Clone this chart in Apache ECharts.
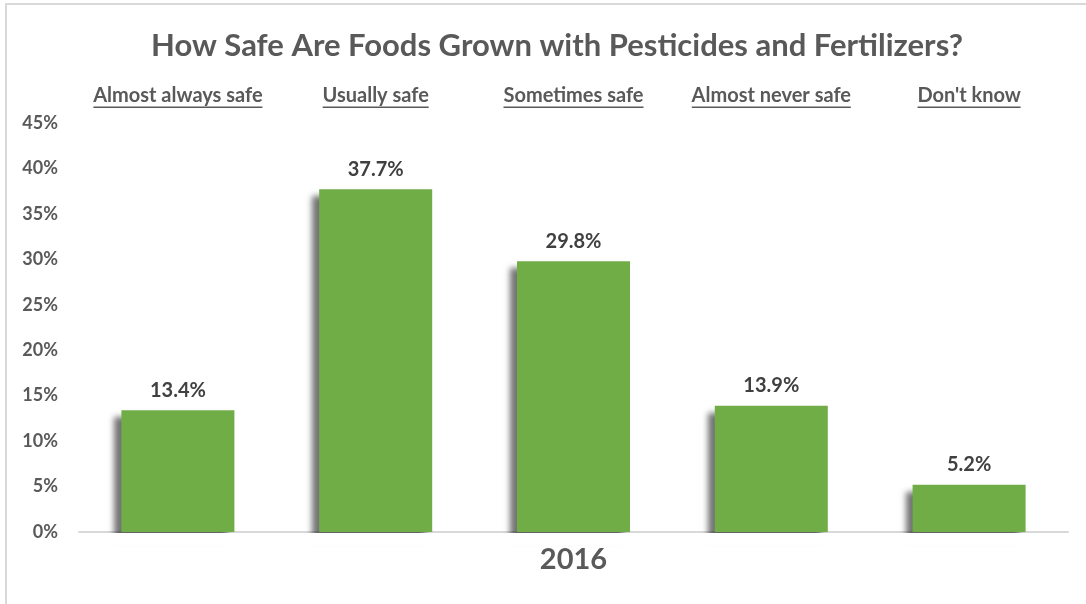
<!DOCTYPE html>
<html>
<head>
<meta charset="utf-8">
<script src="https://cdn.jsdelivr.net/npm/echarts@6/dist/echarts.min.js"></script>
<style>
html,body{margin:0;padding:0;background:#fff;}
#frame{position:absolute;left:5px;top:3px;width:1081px;height:601px;border-left:2px solid #d9d9d9;border-top:2px solid #d9d9d9;box-sizing:border-box;}
#chart{position:absolute;left:0;top:0;width:1086px;height:604px;}
</style>
</head>
<body>
<div id="frame"></div>
<div id="chart"></div>
<script>
var title = 'How Safe Are Foods Grown with Pesticides and Fertilizers?';
var categories = ['Almost always safe', 'Usually safe', 'Sometimes safe', 'Almost never safe', "Don't know"];
var values = [13.4, 37.7, 29.8, 13.9, 5.2];
var yearLabel = ['2016'];

var FONT = 'Lato';
var headSize = 20;
var ctx = document.createElement('canvas').getContext('2d');
ctx.font = 'bold ' + headSize + 'px ' + FONT;
function tw(s){ return Math.round(ctx.measureText(s).width); }

var chart = echarts.init(document.getElementById('chart'), null, {renderer:'canvas'});
function buildRich(){
  var r = {t: {fontFamily: FONT, fontWeight: 'bold', fontSize: headSize, color: '#595959', lineHeight: 22}};
  categories.forEach(function(c,i){ r['w'+i] = {width: tw(c), height: 1.5, backgroundColor: '#595959'}; });
  return r;
}
function render(){
  ctx.font = 'bold ' + headSize + 'px ' + FONT;
  chart.setOption({
    animation: false,
    title: {
      text: title, left: 146, top: 25,
      textStyle: {fontFamily: FONT, fontWeight: 'bold', fontSize: 31, color: '#595959'}
    },
    grid: {left: 79, right: 18, top: 123, bottom: 72, containLabel: false},
    xAxis: [{
      type: 'category', data: categories, position: 'top',
      axisLine: {show: false}, axisTick: {show: false},
      axisLabel: {
        margin: 15,
        formatter: function(v){ var i = categories.indexOf(v); return '{t|' + v + '}\n{w' + i + '|}'; },
        rich: buildRich()
      }
    }, {
      type: 'category', data: yearLabel, position: 'bottom',
      axisLine: {show: true, lineStyle: {color: '#d9d9d9', width: 2}},
      axisTick: {show: false},
      axisLabel: {margin: 13, fontFamily: FONT, fontWeight: 'bold', fontSize: 29, color: '#595959'}
    }],
    yAxis: {
      type: 'value', min: 0, max: 45, interval: 5,
      splitLine: {show: false}, axisLine: {show: false}, axisTick: {show: false},
      axisLabel: {margin: 21, formatter: '{value}%', fontFamily: FONT, fontWeight: 'bold', fontSize: 18, color: '#595959'}
    },
    graphic: [{
      type: 'rect', z: 100, silent: true,
      shape: {x: 79, y: 533, width: 990, height: 12},
      style: {fill: '#ffffff'}
    }],
    series: [{
      type: 'bar', xAxisIndex: 0, data: values, barWidth: 113,
      itemStyle: {color: '#70ad47', shadowColor: 'rgba(0,0,0,0.55)', shadowBlur: 6, shadowOffsetX: -7, shadowOffsetY: 7},
      label: {show: true, position: 'top', distance: 10, formatter: function(p){ return p.value.toFixed(1) + '%'; },
        fontFamily: FONT, fontWeight: 'bold', fontSize: 20, color: '#404040'}
    }]
  });
}
render();
if (document.fonts && document.fonts.load) {
  document.fonts.load('bold 20px ' + FONT).then(function(){ render(); });
}
</script>
</body>
</html>
